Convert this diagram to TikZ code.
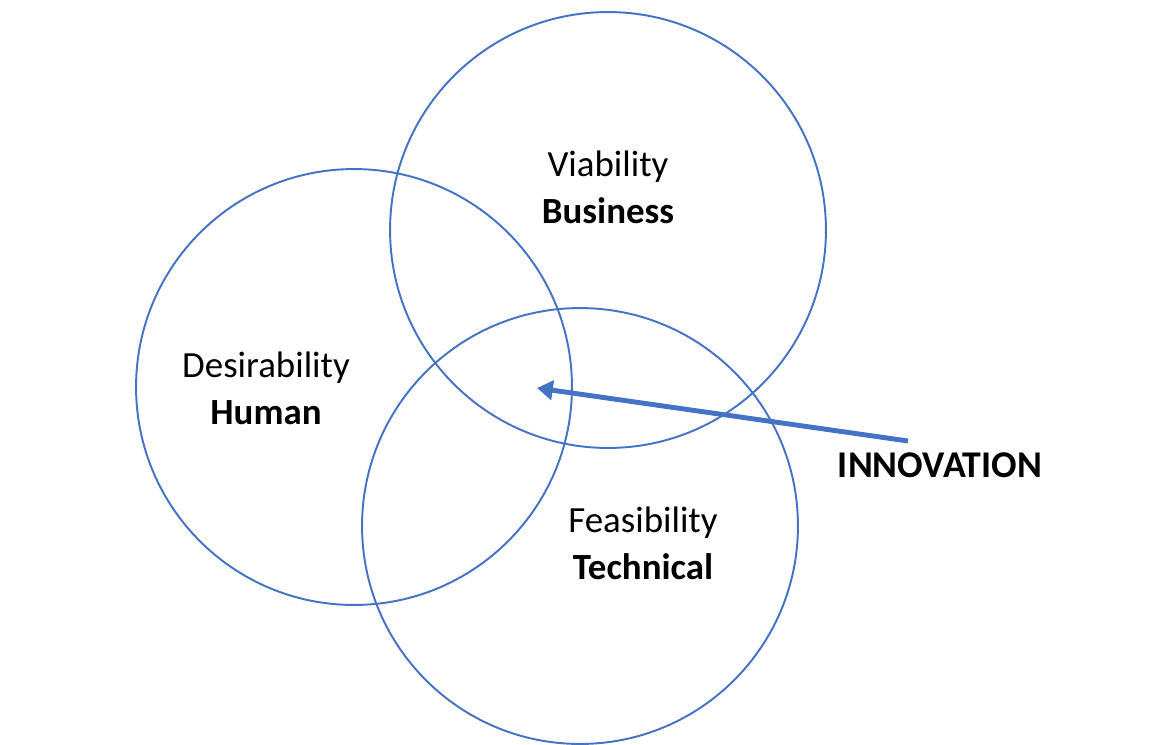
\documentclass[tikz,border=0pt]{standalone}
\usepackage{fontspec}
\setmainfont{Carlito}
\usepackage{tikz}
\usetikzlibrary{arrows.meta}
\definecolor{ringblue}{HTML}{4472C4}
\tikzstyle{ring}=[circle,draw=ringblue,line width=1.1pt,minimum size=8.72cm,inner sep=0pt]
\tikzstyle{label}=[align=center,font=\fontsize{21}{26.7}\selectfont,text=black]
\tikzstyle{pointer}=[draw=ringblue,line width=2.8pt,-{Triangle[length=9pt,width=11pt]}]

\begin{document}
\begin{tikzpicture}[x=0.02cm,y=-0.02cm]
    \useasboundingbox (0,0) rectangle (1165,744);
    % Draw the three rings
    \foreach \pos/\name in {{(608,230)/viab}, {(354,387)/desir}, {(580,526)/feas}}
        \node[ring] (\name) at \pos {};
    % Texts inside the rings
    \node[label] (viabtxt) at (608,187) {Viability\\\textbf{Business}};
    \node[label] (desirtxt) at (266,388) {Desirability\\\textbf{Human}};
    \node[label] (feastxt) at (643,543) {Feasibility\\\textbf{Technical}};
    \node[label,font=\bfseries\fontsize{21.5}{26.7}\selectfont] (innov) at (940,465) {INNOVATION};
    % Arrow to the middle
    \coordinate (tail) at (908,441);
    \coordinate (tip) at (537,388);
    \path[pointer] (tail) -- (tip);
\end{tikzpicture}
\end{document}
